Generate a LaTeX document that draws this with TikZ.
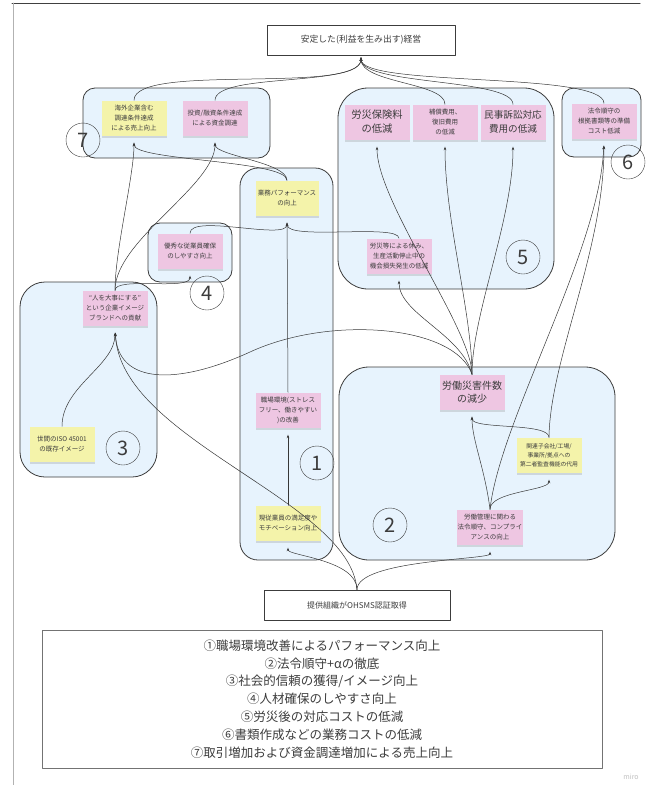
\documentclass[tikz,border=0pt]{standalone}
\usepackage{fontspec}
\setmainfont{Noto Sans CJK JP}
\usetikzlibrary{arrows.meta,shadows}
\definecolor{grpfill}{RGB}{231,243,253}
\definecolor{grpline}{RGB}{60,60,60}
\definecolor{linegray}{RGB}{55,55,55}
\definecolor{txtgray}{RGB}{60,60,60}
\definecolor{notepink}{RGB}{238,198,226}
\definecolor{noteyellow}{RGB}{244,243,170}
\begin{document}
\begin{tikzpicture}[x=1pt,y=1pt,>=Stealth,line join=round,line cap=round,
	grp/.style={draw=grpline,fill=grpfill,line width=.8pt},
	note/.style={minimum width=65pt,minimum height=35pt,inner sep=1pt,align=center,text=txtgray,
		font=\fontsize{6.5}{10}\selectfont,
		drop shadow={shadow xshift=0pt,shadow yshift=-2.5pt,opacity=.25}},
	pinknote/.style={note,fill=notepink},
	yellownote/.style={note,fill=noteyellow},
	bignote/.style={font=\fontsize{10.3}{14}\selectfont},
	num/.style={draw=grpline,circle,minimum size=34pt,inner sep=0pt,text=txtgray,
		font=\fontsize{20}{20}\selectfont},
	plainbox/.style={draw=grpline,fill=white,line width=.6pt,align=center,text=txtgray},
	link/.style={draw=linegray,line width=.5pt,-{Stealth[length=3.5pt,width=2.6pt]},shorten >=7pt},
	tolink/.style={link,shorten >=2pt}]
	\useasboundingbox (0,0) rectangle (646,-785);
	% frame
	\draw[black!75,line width=1pt] (12,-3)--(640,-3);
	\draw[black!30,line width=.6pt] (13,-3)--(13,-785);
	
	% groups
	\draw[grp,rounded corners=12pt] (83,-88) rectangle (270,-158);
	\draw[grp,rounded corners=30pt] (338,-88) rectangle (554,-289);
	\draw[grp,rounded corners=12pt] (562,-88) rectangle (641,-157);
	\draw[grp,rounded corners=18pt] (240,-168) rectangle (333,-560);
	\draw[grp,rounded corners=12pt] (148,-223) rectangle (232,-282);
	\draw[grp,rounded corners=25pt] (20,-282) rectangle (157,-477);
	\draw[grp,rounded corners=30pt] (339,-367) rectangle (615,-560);
	
	% boxes
	\node[plainbox,minimum width=188pt,minimum height=30pt,font=\fontsize{8.8}{10}\selectfont] (goal) at (361,-40) {安定した(利益を生み出す)経営};
	\node[plainbox,minimum width=186pt,minimum height=30pt,font=\fontsize{8}{10}\selectfont] (cert) at (357,-605) {提供組織がOHSMS認証取得};
	
	% notes
	\node[yellownote] (sales) at (134,-118) {海外企業含む\\調達条件達成\\による売上向上};
	\node[pinknote] (invest) at (215,-118) {投資/融資条件達成\\による資金調達};
	\node[pinknote,bignote] (ins) at (377,-122) {労災保険料\\の低減};
	\node[pinknote] (comp) at (445,-122) {補償費用、\\復旧費用\\の低減};
	\node[pinknote,font=\fontsize{9.6}{14}\selectfont] (civil) at (513,-122) {民事訴訟対応\\費用の低減};
	\node[pinknote] (docs) at (604,-121) {法令順守の\\根拠書類等の準備\\コスト低減};
	\node[yellownote,minimum width=63pt] (perf) at (287,-198) {業務パフォーマンス\\の向上};
	\node[pinknote] (hire) at (190,-251) {優秀な従業員確保\\のしやすさ向上};
	\node[pinknote] (loss) at (399,-256) {労災等による休み、\\生産活動停止中の\\機会損失発生の低減};
	\node[pinknote] (brand) at (115,-308) {“人を大事にする”\\という企業イメージ\\ブランドへの貢献};
	\node[pinknote,font=\fontsize{10}{13}\selectfont] (acc) at (472,-392) {労働災害件数\\の減少};
	\node[pinknote] (env) at (288,-410) {職場環境(ストレス\\フリー、働きやすい\\)の改善};
	\node[yellownote] (iso) at (62,-444) {世間のISO 45001\\の既存イメージ};
	\node[yellownote,font=\fontsize{5.8}{9}\selectfont] (audit) at (549,-455) {関連子会社/工場/\\事業所/拠点への\\第二者監査機能の代用};
	\node[yellownote] (motiv) at (288,-523) {現従業員の満足度や\\モチベーション向上};
	\node[pinknote] (law) at (490,-527) {労働管理に関わる\\法令順守、コンプライ\\アンスの向上};
	
	% numbers
	\node[num] (c7) at (83,-140) {7};
	\node[num] (c6) at (628,-162) {6};
	\node[num] (c5) at (523,-257) {5};
	\node[num] (c4) at (207,-293) {4};
	\node[num] (c3) at (123,-448) {3};
	\node[num] (c1) at (317,-463) {1};
	\node[num] (c2) at (390,-525) {2};
	
	% links to the goal
	\draw[tolink] (sales.north) .. controls +(0,38) and +(0,-40) .. (goal.south);
	\draw[tolink] (invest.north) .. controls +(0,28) and +(0,-32) .. (goal.south);
	\draw[tolink] (comp.north) .. controls +(0,22) and +(0,-28) .. (goal.south);
	\draw[tolink] (civil.north) .. controls +(0,26) and +(0,-30) .. (goal.south);
	\draw[tolink] (docs.north) .. controls +(0,32) and +(0,-32) .. (goal.south);
	
	% group 7
	\draw[link] (brand.north) .. controls +(0,40) and +(0,-40) .. (sales.south);
	\draw[link] (brand.north) .. controls +(0,50) and +(0,-50) .. (invest.south);
	\draw[link] (perf.north) .. controls +(0,20) and +(0,-25) .. (sales.south);
	\draw[link] (perf.north) .. controls +(0,18) and +(0,-20) .. (invest.south);
	
	% group 1
	\draw[link] (motiv.north)--(env.south);
	\draw[link] (env.north)--(perf.south);
	\draw[link] (hire.north) .. controls +(0,20) and +(0,-25) .. (perf.south);
	\draw[link] (loss.north) .. controls +(0,15) and +(0,-25) .. (perf.south);
	
	% group 3 / 4
	\draw[link] (iso.north) .. controls +(0,40) and +(0,-40) .. (brand.south);
	\draw[link] (brand.north) .. controls +(0,14) and +(0,-22) .. (hire.south);
	
	% from the accidents
	\draw[link] (acc.north) .. controls +(0,45) and +(0,-62) .. (ins.south);
	\draw[link] (acc.north) .. controls +(0,60) and +(0,-80) .. (comp.south);
	\draw[link] (acc.north) .. controls +(0,60) and +(0,-80) .. (civil.south);
	\draw[link] (acc.north) .. controls +(-10,40) and +(0,-40) .. (loss.south);
	\draw[link] (acc.north) .. controls (455,-325) and (330,-315) .. (250,-352)
		.. controls (178,-385) and (118,-385) .. (brand.south);
	
	% group 2
	\draw[link] (law.north) .. controls +(-5,40) and +(0,-30) .. (acc.south);
	\draw[link] (law.north) .. controls +(0,18) and +(0,-18) .. (audit.south);
	\draw[link] (audit.north) .. controls +(0,15) and +(0,-20) .. (acc.south);
	\draw[link] (law.north) .. controls (500,-420) and (600,-250) .. (docs.south);
	\draw[link] (audit.north) .. controls (550,-360) and (604,-250) .. (docs.south);
	
	% from the certification
	\draw[link] (cert.north) .. controls +(0,30) and +(0,-15) .. (motiv.south);
	\draw[link] (cert.north) .. controls +(0,30) and +(0,-15) .. (law.south);
	\draw[link] (cert.north) .. controls (350,-500) and (120,-440) .. (brand.south);
	
	% legend
	\node[draw=black!55,line width=.6pt,minimum width=560pt,minimum height=138pt,align=center,text=txtgray,
		font=\fontsize{12.5}{17.8}\selectfont] (legend) at (322,-699)
		{①職場環境改善によるパフォーマンス向上\\②法令順守+αの徹底\\③社会的信頼の獲得/イメージ向上\\④人材確保のしやすさ向上\\⑤労災後の対応コストの低減\\⑥書類作成などの業務コストの低減\\⑦取引増加および資金調達増加による売上向上};
	\node[text=black!25,font=\fontsize{7}{7}\selectfont] (miro) at (631,-777) {miro};
\end{tikzpicture}
\end{document}
